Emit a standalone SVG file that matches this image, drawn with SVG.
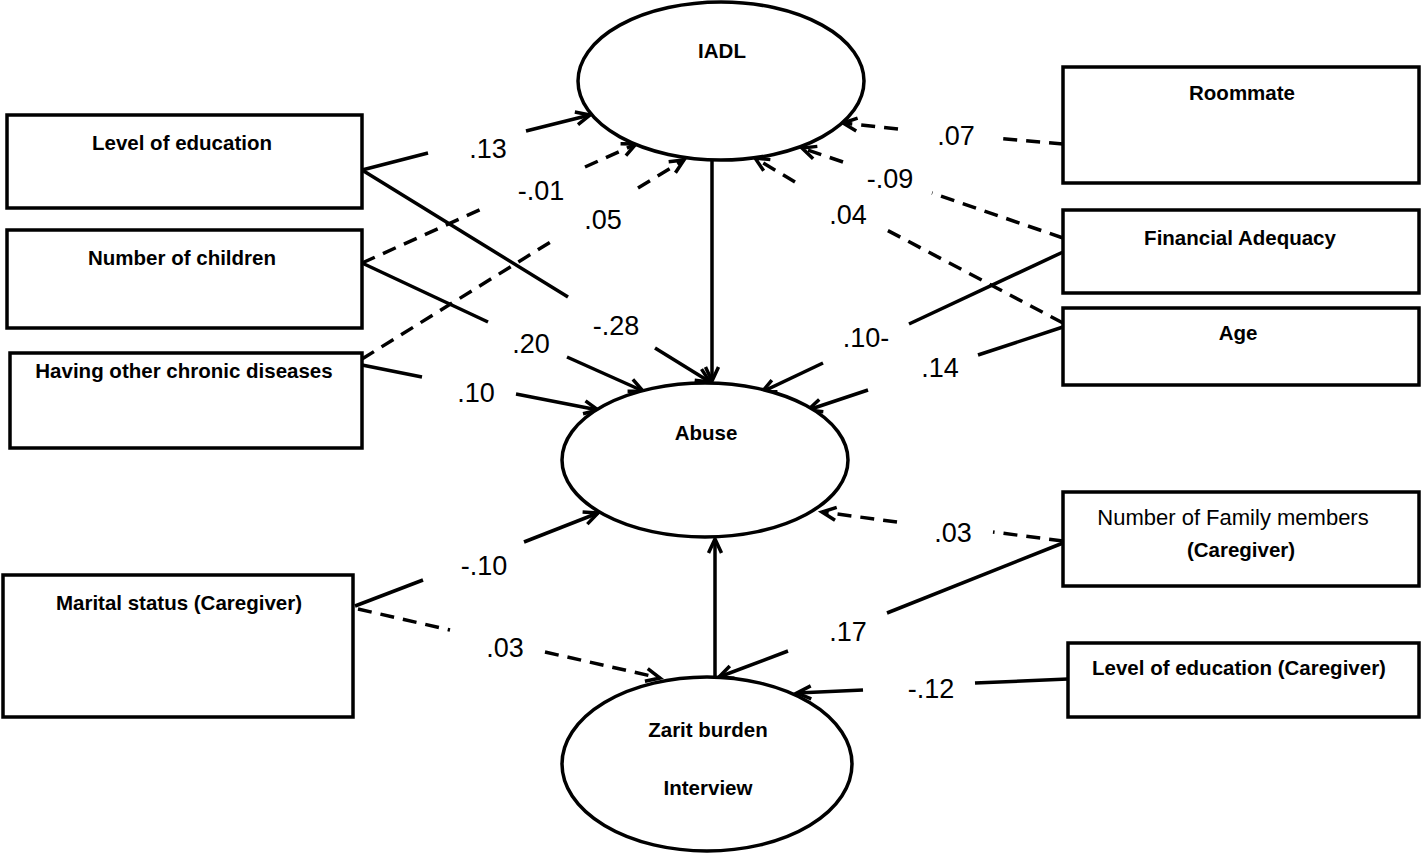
<svg xmlns="http://www.w3.org/2000/svg" width="1422" height="853" viewBox="0 0 1422 853">
<style>
.box{fill:#fff;stroke:#000;stroke-width:3.5}
.ell{fill:#fff;stroke:#000;stroke-width:3.5}
.lbl{font-family:"Liberation Sans",Arial,sans-serif;font-weight:bold;font-size:20.5px;fill:#000;text-anchor:middle}
.reg{font-weight:normal;font-size:22px}
.num{font-family:"Liberation Sans",Arial,sans-serif;font-size:27px;fill:#000;text-anchor:middle}
.c{fill:none;stroke:#000;stroke-width:3.5}
.d{stroke-dasharray:14 9}
.a{marker-end:url(#arr)}
</style>
<defs>
<marker id="arr" markerUnits="userSpaceOnUse" viewBox="-18 -10 22 20" refX="0" refY="0" markerWidth="22" markerHeight="20" orient="auto">
<path d="M-14,-6.5 L0,0 L-14,6.5" fill="none" stroke="#000" stroke-width="3.5" stroke-dasharray="none"/>
</marker>
</defs>
<rect width="1422" height="853" fill="#fff"/>

<g id="connectors">
<!-- Level of education -> IADL .13 -->
<line class="c" x1="362" y1="170" x2="428" y2="153"/>
<line class="c a" x1="526" y1="131" x2="590" y2="115"/>
<!-- Level of education -> Abuse -.28 -->
<line class="c" x1="362" y1="170" x2="568" y2="297"/>
<line class="c a" x1="655" y1="348" x2="710" y2="382"/>
<!-- Number of children -> IADL -.01 -->
<line class="c d" x1="362" y1="263" x2="486" y2="207"/>
<line class="c d a" x1="585" y1="167" x2="636" y2="144"/>
<!-- Number of children -> Abuse .20 -->
<line class="c" x1="362" y1="263" x2="488" y2="322"/>
<line class="c a" x1="567" y1="357" x2="643" y2="391"/>
<!-- Chronic -> IADL .05 -->
<line class="c d" x1="362" y1="359" x2="557" y2="238"/>
<line class="c d a" x1="638" y1="188" x2="684" y2="160"/>
<!-- Chronic -> Abuse .10 -->
<line class="c" x1="362" y1="365" x2="422" y2="377"/>
<line class="c a" x1="516" y1="394" x2="598" y2="410"/>
<!-- IADL -> Abuse -->
<line class="c a" x1="712" y1="160" x2="712" y2="381"/>
<!-- Roommate -> IADL .07 -->
<line class="c d" x1="1063" y1="144" x2="995" y2="138"/>
<line class="c d a" x1="898" y1="129" x2="843" y2="123"/>
<!-- Financial -> IADL -.09 -->
<line class="c d" x1="1063" y1="238" x2="932" y2="193"/>
<line class="c d a" x1="843" y1="162" x2="802" y2="148"/>
<!-- Age -> IADL .04 -->
<line class="c d" x1="1063" y1="323" x2="883" y2="228"/>
<line class="c d a" x1="795" y1="182" x2="755" y2="158"/>
<!-- Financial -> Abuse .10- -->
<line class="c" x1="1063" y1="252" x2="909" y2="324"/>
<line class="c a" x1="823" y1="363" x2="762" y2="392"/>
<!-- Age -> Abuse .14 -->
<line class="c" x1="1063" y1="327" x2="978" y2="355"/>
<line class="c a" x1="868" y1="390" x2="808" y2="410"/>
<!-- Family members -> Abuse .03 -->
<line class="c d" x1="1063" y1="541" x2="993" y2="532"/>
<line class="c d a" x1="897" y1="522" x2="822" y2="512"/>
<!-- Family members -> Zarit .17 -->
<line class="c" x1="1063" y1="543" x2="887" y2="613"/>
<line class="c a" x1="788" y1="651" x2="719" y2="677"/>
<!-- Level of education (Caregiver) -> Zarit -.12 -->
<line class="c" x1="1068" y1="679" x2="975" y2="683"/>
<line class="c a" x1="863" y1="690" x2="797" y2="693"/>
<!-- Marital -> Abuse -.10 -->
<line class="c" x1="355" y1="606" x2="423" y2="580"/>
<line class="c a" x1="524" y1="542" x2="598" y2="513"/>
<!-- Marital -> Zarit .03 -->
<line class="c d" x1="358" y1="609" x2="450" y2="630"/>
<line class="c d a" x1="545" y1="652" x2="660" y2="678"/>
<!-- Zarit -> Abuse -->
<line class="c a" x1="715" y1="677" x2="715" y2="539"/>
</g>

<g id="labels">
<text class="num" x="488" y="158">.13</text>
<text class="num" x="541" y="200">-.01</text>
<text class="num" x="603" y="229">.05</text>
<text class="num" x="956" y="145">.07</text>
<text class="num" x="890" y="188">-.09</text>
<text class="num" x="848" y="224">.04</text>
<text class="num" x="531" y="353">.20</text>
<text class="num" x="616" y="335">-.28</text>
<text class="num" x="476" y="402">.10</text>
<text class="num" x="866" y="347">.10-</text>
<text class="num" x="940" y="377">.14</text>
<text class="num" x="484" y="575">-.10</text>
<text class="num" x="505" y="657">.03</text>
<text class="num" x="953" y="542">.03</text>
<text class="num" x="848" y="641">.17</text>
<text class="num" x="931" y="698">-.12</text>
</g>

<g id="iadl">
<ellipse class="ell" cx="721" cy="81" rx="143" ry="79"/>
<text class="lbl" x="722" y="58">IADL</text>
</g>
<g id="abuse">
<ellipse class="ell" cx="705" cy="460" rx="143" ry="77"/>
<text class="lbl" x="706" y="440">Abuse</text>
</g>
<g id="zarit">
<ellipse class="ell" cx="707" cy="764" rx="145" ry="87"/>
<text class="lbl" x="708" y="737">Zarit burden</text>
<text class="lbl" x="708" y="795">Interview</text>
</g>

<g id="level-education">
<rect class="box" x="7" y="115" width="355" height="93"/>
<text class="lbl" x="182" y="150">Level of education</text>
</g>
<g id="number-children">
<rect class="box" x="7" y="230" width="355" height="98"/>
<text class="lbl" x="182" y="265">Number of children</text>
</g>
<g id="chronic-diseases">
<rect class="box" x="10" y="353" width="352" height="95"/>
<text class="lbl" x="184" y="378">Having other chronic diseases</text>
</g>
<g id="marital-status">
<rect class="box" x="3" y="575" width="350" height="142"/>
<text class="lbl" x="179" y="610">Marital status (Caregiver)</text>
</g>
<g id="roommate">
<rect class="box" x="1063" y="67" width="356" height="116"/>
<text class="lbl" x="1242" y="100">Roommate</text>
</g>
<g id="financial-adequacy">
<rect class="box" x="1063" y="210" width="356" height="83"/>
<text class="lbl" x="1240" y="245">Financial Adequacy</text>
</g>
<g id="age">
<rect class="box" x="1063" y="308" width="356" height="77"/>
<text class="lbl" x="1238" y="340">Age</text>
</g>
<g id="family-members">
<rect class="box" x="1063" y="492" width="356" height="94"/>
<text class="lbl reg" x="1233" y="525">Number of Family members</text>
<text class="lbl" x="1241" y="557">(Caregiver)</text>
</g>
<g id="education-caregiver">
<rect class="box" x="1068" y="643" width="351" height="74"/>
<text class="lbl" x="1239" y="675">Level of education (Caregiver)</text>
</g>
</svg>
